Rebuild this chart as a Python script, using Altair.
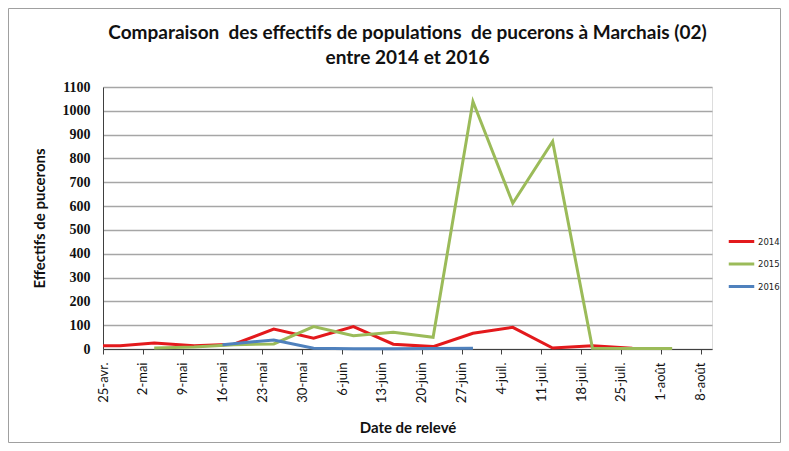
import json
import pandas as pd
import altair as alt

# ---- data ----
dates_2014 = ["04-25", "04-28", "05-04", "05-11", "05-18", "05-25", "06-01", "06-08",
              "06-15", "06-22", "06-29", "07-06", "07-13", "07-20", "07-27"]
values_2014 = [14, 14, 25, 14, 20, 84, 45, 94, 20, 10, 66, 91, 4, 14, 3]

dates_2015 = ["05-04", "05-11", "05-18", "05-25", "06-01", "06-08", "06-15", "06-22",
              "06-29", "07-06", "07-13", "07-20", "07-27", "08-03"]
values_2015 = [4, 8, 18, 21, 94, 56, 70, 49, 1039, 612, 871, 3, 2, 2]

dates_2016 = ["05-16", "05-25", "06-01", "06-08", "06-15", "06-22", "06-29"]
values_2016 = [18, 38, 3, 1, 1, 2, 3]

series = ["2014", "2015", "2016"]
colors = ["#e3191c", "#9bbb59", "#4f81bd"]

tick_labels = ["25-avr.", "2-mai", "9-mai", "16-mai", "23-mai", "30-mai", "6-juin",
               "13-juin", "20-juin", "27-juin", "4-juil.", "11-juil.", "18-juil.",
               "25-juil.", "1-août", "8-août"]

title_lines = ["Comparaison\u00a0 des effectifs de populations\u00a0 de pucerons à Marchais (02)",
               "entre 2014 et 2016"]

# ---- build table ----
origin = pd.Timestamp("2016-04-25")
rows = []
for name, ds, vs in [("2014", dates_2014, values_2014),
                     ("2015", dates_2015, values_2015),
                     ("2016", dates_2016, values_2016)]:
    for d, v in zip(ds, vs):
        day = (pd.Timestamp("2016-" + d) - origin).days
        rows.append({"jour": day, "effectif": v, "annee": name})
df = pd.DataFrame(rows)

tick_values = [7 * i for i in range(len(tick_labels))]
label_expr = json.dumps(tick_labels) + "[round(datum.value / 7)]"

W, H = 609, 262
PL, PT, PR, PB = 95, 79, 69, 94

lines = alt.Chart(df).mark_line(strokeWidth=3, strokeJoin="miter").encode(
    x=alt.X("jour:Q",
            scale=alt.Scale(domain=[0, 107], nice=False, zero=False),
            axis=alt.Axis(values=tick_values, labelExpr=label_expr, labelAngle=-90,
                          grid=False, ticks=True, tickSize=5, tickColor="#404040",
                          domainColor="#404040", labelPadding=8,
                          labelFont="Lato", labelFontSize=13, labelColor="#111",
                          title="Date de relevé", titleFont="Lato", titleFontSize=15,
                          titleFontWeight="bold", titleColor="#111",
                          titleX=W / 2, titleY=78, titleAlign="center",
                          titleBaseline="middle")),
    y=alt.Y("effectif:Q",
            scale=alt.Scale(domain=[0, 1100], nice=False),
            axis=alt.Axis(values=list(range(0, 1101, 100)), format="d", grid=True,
                          gridColor="#a6a6a6", gridWidth=1.3, ticks=False,
                          domainColor="#404040", labelPadding=13,
                          labelFont="Liberation Serif", labelFontSize=14,
                          labelFontWeight="bold", labelColor="#111",
                          title="Effectifs de pucerons", titleFont="Lato",
                          titleFontSize=15, titleFontWeight="bold", titleColor="#111",
                          titleAngle=-90, titleX=-64, titleY=131,
                          titleAlign="center", titleBaseline="middle")),
    color=alt.Color("annee:N",
                    scale=alt.Scale(domain=series, range=colors),
                    legend=alt.Legend(title=None, orient="none", legendX=624,
                                      legendY=140, symbolType="stroke",
                                      symbolStrokeWidth=3, symbolSize=650,
                                      labelFont="DejaVu Sans", labelFontSize=8.5,
                                      labelColor="#222", rowPadding=1.5,
                                      labelOffset=2)),
)

title_df = pd.DataFrame({"texte": title_lines, "ligne": [0, 1]})
title1 = alt.Chart(title_df.iloc[[0]]).mark_text(
    font="Lato", fontSize=19, fontWeight="bold", color="#111", baseline="middle",
    align="center"
).encode(text="texte:N", x=alt.value(W / 2), y=alt.value(-54))
title2 = alt.Chart(title_df.iloc[[1]]).mark_text(
    font="Lato", fontSize=19, fontWeight="bold", color="#111", baseline="middle",
    align="center"
).encode(text="texte:N", x=alt.value(W / 2), y=alt.value(-29))

border = alt.Chart(alt.Data(values=[{}])).mark_rect(
    fill=None, stroke="#a0a0a0", strokeWidth=1
).encode(
    x=alt.value(-PL + 0.5), x2=alt.value(W + PR - 0.5),
    y=alt.value(-PT + 0.5), y2=alt.value(H + PB - 0.5),
)

chart = alt.layer(lines, title1, title2, border).properties(
    width=W, height=H,
    autosize=alt.AutoSizeParams(type="none"),
    padding={"left": PL, "top": PT, "right": PR, "bottom": PB},
).configure_view(stroke="#333333", strokeWidth=1.2).configure(background="white")

chart.save("out.html", embed_options={"renderer": "svg", "actions": False})
